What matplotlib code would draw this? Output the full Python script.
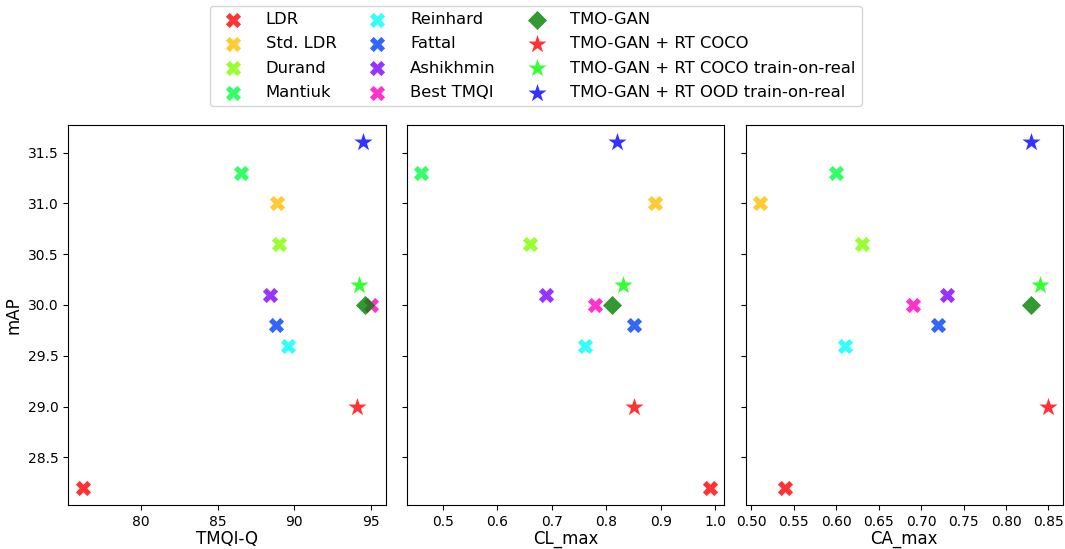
import colorsys
import matplotlib
matplotlib.use("Agg")
import matplotlib.pyplot as plt
from matplotlib.ticker import MultipleLocator

# methods in legend order
methods = ["LDR", "Std. LDR", "Durand", "Mantiuk", "Reinhard", "Fattal",
           "Ashikhmin", "Best TMQI", "TMO-GAN", "TMO-GAN + RT COCO",
           "TMO-GAN + RT COCO train-on-real", "TMO-GAN + RT OOD train-on-real"]

map_vals = [28.2, 31.0, 30.6, 31.3, 29.6, 29.8, 30.1, 30.0, 30.0, 29.0, 30.2, 31.6]
tmqi_q = [76.2, 88.9, 89.0, 86.5, 89.6, 88.8, 88.4, 95.0, 94.6, 94.1, 94.2, 94.5]
cl_max = [0.99, 0.89, 0.66, 0.46, 0.76, 0.85, 0.69, 0.78, 0.81, 0.85, 0.83, 0.82]
ca_max = [0.54, 0.51, 0.63, 0.60, 0.61, 0.72, 0.73, 0.69, 0.83, 0.85, 0.84, 0.83]

panels = [("TMQI-Q", tmqi_q, 5), ("CL_max", cl_max, 0.1), ("CA_max", ca_max, 0.05)]

# the 8 baseline operators get evenly spaced hues, the rest fixed colours
colors = [colorsys.hsv_to_rgb(i / 8, 1, 1) for i in range(8)]
colors += ["green", "red", "lime", "blue"]
markers = ["X"] * 8 + ["D", "*", "*", "*"]
sizes = [120] * 8 + [95, 190, 190, 190]

fig = plt.figure(figsize=(10.65, 5.49), dpi=100)
axes = []
lefts = [0.064, 0.382, 0.700]
for i, left in enumerate(lefts):
    ax = fig.add_axes([left, 0.080, 0.298, 0.692],
                      sharey=axes[0] if axes else None)
    axes.append(ax)

for ax, (xlabel, xs, step) in zip(axes, panels):
    for name, x, y, c, m, s in zip(methods, xs, map_vals, colors, markers, sizes):
        ax.scatter(x, y, c=[c], marker=m, s=s, alpha=0.8, label=name,
                   linewidths=0)
    ax.set_xlabel(xlabel, fontsize=12, labelpad=1)
    ax.xaxis.set_major_locator(MultipleLocator(step))
    ax.tick_params(labelsize=10)

axes[0].set_ylabel("mAP", fontsize=12)
for ax in axes[1:]:
    ax.tick_params(labelleft=False)

handles, labels = axes[0].get_legend_handles_labels()
fig.legend(handles, labels, loc="upper center", bbox_to_anchor=(0.503, 1.0),
           ncol=3, handletextpad=1.0, columnspacing=1.5,
           labelspacing=0.56, borderaxespad=0.35, prop={"size": 11.8})

fig.savefig("out.png", dpi=100)
